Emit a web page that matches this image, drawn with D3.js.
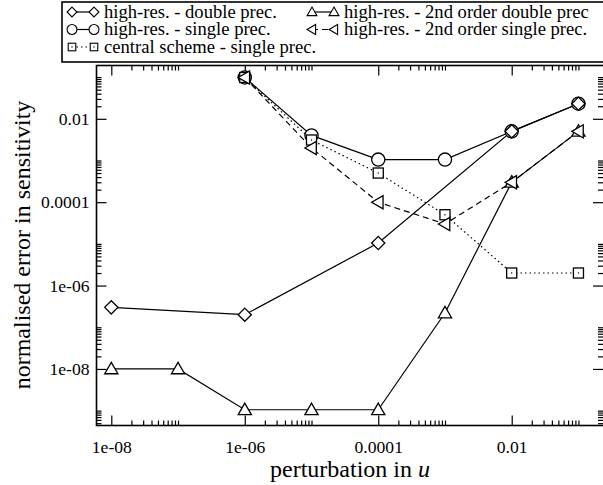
<!DOCTYPE html>
<html>
<head>
<meta charset="utf-8">
<script src="https://cdn.jsdelivr.net/npm/d3@7"></script>
<style>
  body { margin: 0; background: #fff; }
</style>
</head>
<body>
<script>
var width = 603;
var height = 485;
var serif = "'Liberation Serif', 'Times New Roman', serif";

// perturbation values (x) shared by all series
var perturbation = [1e-8, 1e-7, 1e-6, 1e-5, 1e-4, 1e-3, 1e-2, 1e-1];

// normalised error per series (null = no point)
var hiresDouble   = [3.0e-7, null, 2.0e-7, null, 1.05e-5, null, 5.0e-3, 2.3e-2];
var hiresSingle   = [null, null, 0.098, 4.0e-3, 1.05e-3, 1.05e-3, 5.0e-3, 2.3e-2];
var centralSingle = [null, null, 0.098, 3.1e-3, 5.0e-4, 5.0e-5, 2.0e-6, 2.0e-6];
var hires2Double  = [1.0e-8, 1.0e-8, 1.05e-9, 1.05e-9, 1.05e-9, 2.2e-7, 3.0e-4, 5.0e-3];
var hires2Single  = [null, null, 0.098, 2.0e-3, 1.0e-4, 3.0e-5, 3.0e-4, 5.0e-3];

var seriesNames = [
  "high-res. - double prec.",
  "high-res. - single prec.",
  "central scheme - single prec.",
  "high-res. - 2nd order double prec",
  "high-res. - 2nd order single prec."
];

var majorTicks = [1e-8, 1e-6, 1e-4, 1e-2];
var tickLabels = ["1e-08", "1e-06", "0.0001", "0.01"];

var series = [
  { name: seriesNames[0], values: hiresDouble,   symbol: "diamond", dash: null },
  { name: seriesNames[1], values: hiresSingle,   symbol: "circle",  dash: null },
  { name: seriesNames[2], values: centralSingle, symbol: "square",  dash: "1.5,3" },
  { name: seriesNames[3], values: hires2Double,  symbol: "triup",   dash: null },
  { name: seriesNames[4], values: hires2Single,  symbol: "trileft", dash: "6,4" }
];

var plot = { left: 96.5, right: 605, top: 65.5, bottom: 425.5 };

var svg = d3.select("body")
    .append("svg")
    .attr("width", width)
    .attr("height", height)
    .attr("font-family", serif)

var xScale = d3.scaleLog()
    .domain([6e-9, 0.25])
    .range([plot.left, plot.right])
var yScale = d3.scaleLog()
    .domain([4.4e-10, 0.19])
    .range([plot.bottom, plot.top])

// minor ticks: 2..10 x 10^n for the labelled decades
function minorTicks(scale) {
  var out = [];
  var dom = scale.domain();
  [-10, -8, -6, -4, -2].forEach(function (n) {
    for (var k = 2; k <= 10; k++) {
      var v = k * Math.pow(10, n);
      if (v > dom[0] && v < dom[1]) out.push(v);
    }
  });
  return out;
}

var pw = plot.right - plot.left, ph = plot.bottom - plot.top;

// axes, ticks inward on all four sides
svg.append("g")
    .attr("transform", "translate(0," + plot.bottom + ")")
    .call(d3.axisBottom(xScale).tickValues(majorTicks).tickFormat(function (d, i) { return tickLabels[i] }).tickSizeInner(-10).tickSizeOuter(0).tickPadding(15))
svg.append("g")
    .attr("transform", "translate(0," + plot.bottom + ")")
    .call(d3.axisBottom(xScale).tickValues(minorTicks(xScale)).tickFormat("").tickSizeInner(-5).tickSizeOuter(0))
svg.append("g")
    .attr("transform", "translate(0," + plot.top + ")")
    .call(d3.axisTop(xScale).tickValues(majorTicks).tickFormat("").tickSizeInner(-10).tickSizeOuter(0))
svg.append("g")
    .attr("transform", "translate(0," + plot.top + ")")
    .call(d3.axisTop(xScale).tickValues(minorTicks(xScale)).tickFormat("").tickSizeInner(-5).tickSizeOuter(0))

svg.append("g")
    .attr("transform", "translate(" + plot.left + ",0)")
    .call(d3.axisLeft(yScale).tickValues(majorTicks).tickFormat(function (d, i) { return tickLabels[i] }).tickSizeInner(-10).tickSizeOuter(0).tickPadding(7))
svg.append("g")
    .attr("transform", "translate(" + plot.left + ",0)")
    .call(d3.axisLeft(yScale).tickValues(minorTicks(yScale)).tickFormat("").tickSizeInner(-5).tickSizeOuter(0))
svg.append("g")
    .attr("transform", "translate(" + (plot.right - 2) + ",0)")
    .call(d3.axisRight(yScale).tickValues(majorTicks).tickFormat("").tickSizeInner(-10).tickSizeOuter(0))
svg.append("g")
    .attr("transform", "translate(" + (plot.right - 2) + ",0)")
    .call(d3.axisRight(yScale).tickValues(minorTicks(yScale)).tickFormat("").tickSizeInner(-5).tickSizeOuter(0))

svg.selectAll(".domain").remove()
svg.selectAll(".tick line").attr("stroke", "#000").attr("stroke-width", 1.2)
svg.selectAll(".tick text").attr("font-family", serif).attr("font-size", 17.6).attr("fill", "#000")

svg.append("rect")
    .attr("x", plot.left).attr("y", plot.top)
    .attr("width", pw).attr("height", ph)
    .attr("fill", "none").attr("stroke", "#000").attr("stroke-width", 1.6)

// symbols
function drawSymbol(g, type, s) {
  if (type === "circle") {
    g.append("circle").attr("r", s * 0.55)
  } else if (type === "diamond") {
    g.append("path").attr("d", "M0," + (-s * 0.55) + "L" + (s * 0.55) + ",0L0," + (s * 0.55) + "L" + (-s * 0.55) + ",0Z")
  } else if (type === "square") {
    g.append("rect").attr("x", -s * 0.42).attr("y", -s * 0.42).attr("width", s * 0.84).attr("height", s * 0.84)
    g.append("circle").attr("r", 0.7).attr("fill", "#000").attr("stroke", "none")
  } else if (type === "triup") {
    g.append("path").attr("d", "M0," + (-s * 0.55) + "L" + (s * 0.55) + "," + (s * 0.4) + "L" + (-s * 0.55) + "," + (s * 0.4) + "Z")
  } else if (type === "trileft") {
    g.append("path").attr("d", "M" + (-s * 0.55) + ",0L" + (s * 0.4) + "," + (-s * 0.55) + "L" + (s * 0.4) + "," + (s * 0.55) + "Z")
  }
}

var line = d3.line()
    .x(function (d) { return xScale(d.x) })
    .y(function (d) { return yScale(d.y) })

function points(s) {
  return perturbation.map(function (x, i) { return { x: x, y: s.values[i] } })
      .filter(function (d) { return d.y != null })
}

series.forEach(function (s) {
  svg.append("path")
      .datum(points(s))
      .attr("d", line)
      .attr("fill", "none")
      .attr("stroke", "#000")
      .attr("stroke-width", 1.2)
      .attr("stroke-dasharray", s.dash)
})

var markerOrder = [1, 2, 0, 3, 4];
markerOrder.forEach(function (idx) {
  var s = series[idx];
  points(s).forEach(function (d) {
    var g = svg.append("g")
        .attr("transform", "translate(" + xScale(d.x) + "," + yScale(d.y) + ")")
        .attr("fill", "#fff")
        .attr("stroke", "#000")
        .attr("stroke-width", 1.3)
    drawSymbol(g, s.symbol, 12)
  })
})

// legend
var legend = svg.append("g")
legend.append("rect")
    .attr("x", 62).attr("y", 2)
    .attr("width", 560).attr("height", 60)
    .attr("fill", "#fff").attr("stroke", "#000").attr("stroke-width", 1.6)

var legendPos = [
  { x: 72, y: 12 },
  { x: 72, y: 29.5 },
  { x: 72, y: 47 },
  { x: 312, y: 12 },
  { x: 312, y: 29.5 }
];

series.forEach(function (s, i) {
  var p = legendPos[i];
  legend.append("line")
      .attr("x1", p.x).attr("x2", p.x + 22)
      .attr("y1", p.y).attr("y2", p.y)
      .attr("stroke", "#000").attr("stroke-width", 1.2)
      .attr("stroke-dasharray", s.dash)
  ;[p.x, p.x + 22].forEach(function (mx) {
    var g = legend.append("g")
        .attr("transform", "translate(" + mx + "," + p.y + ")")
        .attr("fill", "#fff").attr("stroke", "#000").attr("stroke-width", 1.1)
    drawSymbol(g, s.symbol, 9)
  })
  legend.append("text")
      .attr("x", p.x + 32).attr("y", p.y + 5.5)
      .attr("font-size", 18.6)
      .text(s.name)
})

// axis titles
svg.append("text")
    .attr("x", 350)
    .attr("y", 477)
    .attr("text-anchor", "middle")
    .attr("font-size", 24)
    .text("perturbation in ")
    .append("tspan").attr("font-style", "italic").text("u")

svg.append("text")
    .attr("transform", "translate(30,245) rotate(-90)")
    .attr("text-anchor", "middle")
    .attr("font-size", 24)
    .text("normalised error in sensitivity")
</script>
</body>
</html>
